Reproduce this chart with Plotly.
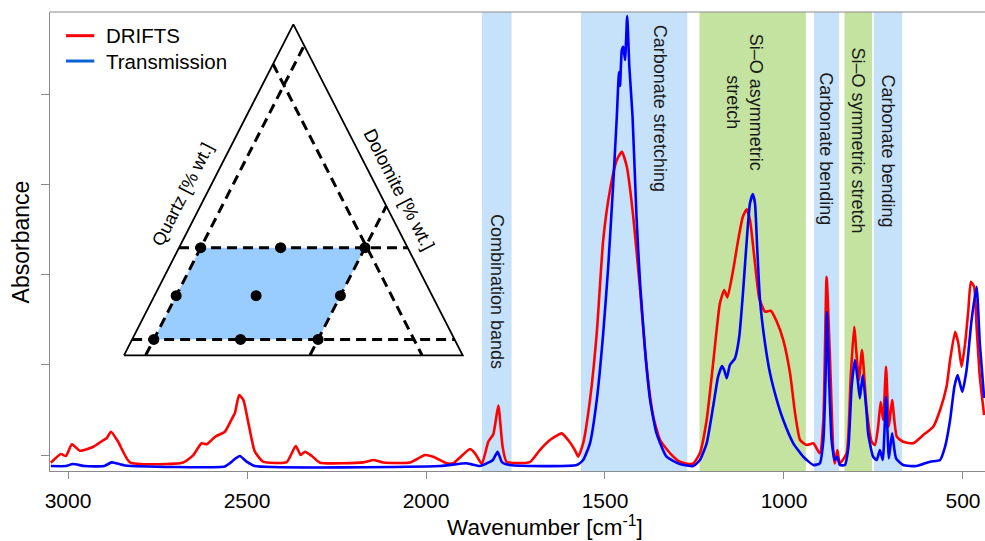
import plotly.graph_objects as go

# ---------------- spectra (wavenumber in cm-1, absorbance in arbitrary units) -------------
wn_drifts = [3048, 3020, 3006, 2989, 2967, 2929, 2901, 2892, 2880, 2860,
             2827, 2678, 2650, 2627, 2613, 2589, 2562, 2543, 2534, 2522,
             2510, 2496, 2478, 2455, 2389, 2364, 2350, 2338, 2319, 2296,
             2175, 2147, 2119, 2045, 2003, 1980, 1942, 1924, 1877, 1863,
             1844, 1826, 1812, 1798, 1786, 1775, 1710, 1682, 1654, 1621,
             1603, 1584, 1575, 1561, 1542, 1523, 1505, 1486, 1467, 1453,
             1439, 1421, 1402, 1384, 1365, 1346, 1318, 1291, 1263, 1253,
             1235, 1216, 1198, 1179, 1167, 1158, 1142, 1128, 1115, 1104,
             1095, 1081, 1069, 1053, 1037, 1020, 1002, 983, 969, 955,
             937, 918, 900, 890, 881, 872, 862, 858, 851, 844,
             825, 814, 804, 791, 782, 769, 755, 746, 737, 730,
             723, 715, 707, 698, 685, 667, 639, 611, 583, 564,
             546, 536, 522, 513, 504, 494, 485, 478, 469, 462,
             453, 441]
abs_drifts = [-0.085, 0.011, -0.011, 0.119, 0.048, 0.092, 0.166, 0.185, 0.258, 0.147,
              -0.081, -0.083, 0.000, 0.130, 0.119, 0.203, 0.258, 0.396, 0.462, 0.665,
              0.609, 0.351, 0.037, -0.074, -0.078, 0.100, 0.000, 0.037, -0.011, -0.085,
              -0.081, -0.055, -0.083, -0.083, 0.000, -0.019, -0.092, -0.092, 0.066, 0.019,
              -0.100, 0.147, 0.230, 0.548, 0.092, -0.074, -0.078, 0.055, 0.166, 0.240,
              0.166, 0.055, -0.019, 0.130, 0.609, 1.352, 2.382, 2.936, 3.269, 3.361,
              3.194, 2.640, 1.828, 0.978, 0.424, 0.166, 0.019, -0.074, -0.100, -0.092,
              0.019, 0.388, 1.016, 1.681, 1.828, 1.747, 2.050, 2.382, 2.640, 2.722,
              2.604, 2.124, 1.736, 1.588, 1.599, 1.477, 1.274, 0.905, 0.462, 0.166,
              0.111, 0.130, 0.019, 0.388, 1.976, 1.127, 0.019, -0.092, 0.055, -0.092,
              0.019, 0.831, 1.422, 0.831, 1.163, 0.499, 0.147, 0.111, 0.314, 0.591,
              0.388, 0.978, 0.314, 0.609, 0.203, 0.147, 0.130, 0.222, 0.314, 0.499,
              0.757, 1.053, 1.366, 1.238, 0.978, 1.238, 1.607, 1.920, 1.865, 1.422,
              0.868, 0.443]

wn_trans = [3048, 3006, 2987, 2953, 2899, 2878, 2841, 2562, 2548, 2534,
            2520, 2501, 2478, 1961, 1886, 1849, 1826, 1813, 1800, 1788,
            1765, 1579, 1561, 1542, 1523, 1505, 1491, 1477, 1467, 1461,
            1458, 1453, 1449, 1444, 1438, 1432, 1423, 1412, 1402, 1388,
            1374, 1356, 1328, 1291, 1253, 1235, 1216, 1198, 1184, 1173,
            1167, 1160, 1151, 1137, 1125, 1114, 1104, 1095, 1087, 1081,
            1075, 1067, 1053, 1039, 1020, 1002, 974, 946, 918, 900,
            890, 884, 880, 874, 867, 858, 851, 844, 830, 820,
            811, 802, 794, 788, 780, 769, 765, 751, 741, 732,
            724, 715, 707, 698, 687, 667, 630, 592, 564, 550,
            536, 524, 515, 502, 490, 476, 462, 453, 441]
abs_trans = [-0.122, -0.122, -0.100, -0.122, -0.122, -0.081, -0.116, -0.127, -0.092, -0.044,
             -0.011, -0.074, -0.122, -0.122, -0.092, -0.122, -0.085, -0.055, 0.037, -0.078,
             -0.111, -0.111, -0.055, 0.130, 0.609, 1.348, 2.086, 3.010, 3.748, 4.244,
             4.089, 4.488, 4.524, 4.377, 4.864, 4.302, 3.748, 2.640, 1.903, 1.163,
             0.609, 0.240, -0.019, -0.100, -0.122, -0.055, 0.130, 0.535, 0.868, 0.986,
             0.942, 0.850, 0.997, 1.071, 1.311, 1.828, 2.382, 2.789, 2.892, 2.789,
             2.308, 1.717, 1.238, 0.905, 0.609, 0.388, 0.130, -0.019, -0.111, -0.092,
             0.166, 0.831, 1.581, 0.831, 0.166, -0.055, -0.019, -0.111, -0.111, 0.092,
             0.757, 1.053, 0.831, 0.628, 0.886, 0.462, 0.240, -0.019, -0.055, 0.055,
             -0.055, 0.646, -0.037, 0.240, -0.037, -0.111, -0.122, -0.074, -0.055, 0.092,
             0.388, 0.757, 0.886, 0.701, 0.942, 1.496, 1.865, 1.238, 0.632]

# ---------------- assignment bands ----------------
band_lo = [1761, 1270, 939, 846, 754, 670]
band_hi = [1844, 1567, 1236, 916, 831, 749]
band_kind = ["carb", "carb", "si", "carb", "si", "carb"]
band_labels = ["Combination bands", "Carbonate stretching", "Si\u2013O asymmetric<br>stretch",
               "Carbonate bending", "Si\u2013O symmetric stretch", "Carbonate bending"]
label_wn = [1800, 1346, 1110, 881, 792, 709]
label_ypos = [0.391, 0.791, 0.803, 0.702, 0.719, 0.698]

x_ticks = [3000, 2500, 2000, 1500, 1000, 500]
y_ticks = [0, 1, 2, 3, 4]

# ---------------- ternary inset (percent) ----------------
quartz_levels = [4.8, 32.5]        # horizontal guide lines
dolomite_levels = [6.4, 54.9]      # guides parallel to the left edge
calcite_levels = [12.0]            # guide parallel to the right edge
sample_quartz = [4.8, 4.8, 4.8, 18.0, 18.0, 18.0, 32.5, 32.5, 32.5]
sample_dolomite = [6.4, 32.0, 54.9, 6.4, 30.0, 54.9, 6.4, 30.0, 54.9]

RED = "#FF0000"
BLUE = "#0000FF"
CARB_FILL = "#C6E1FA"
SI_FILL = "#C4E3A1"
FONT = "Liberation Sans, Arial, sans-serif"
AXIS_GRAY = "#8A8A8A"


def tern(q, d):
    """quartz (top) / dolomite (bottom-right) percentages -> 2D coordinates"""
    q = q / 100.0
    d = d / 100.0
    return d + q / 2.0, q


fig = go.Figure()

# bands
for lo, hi, kind in zip(band_lo, band_hi, band_kind):
    fig.add_shape(type="rect", xref="x", yref="paper", x0=lo, x1=hi, y0=0, y1=1,
                  fillcolor=CARB_FILL if kind == "carb" else SI_FILL,
                  line_width=0, layer="below")

fig.add_trace(go.Scatter(x=wn_drifts, y=abs_drifts, mode="lines", name="DRIFTS",
                         line=dict(color=RED, width=2.6, shape="spline", smoothing=0.5),
                         showlegend=False, xaxis="x", yaxis="y"))
fig.add_trace(go.Scatter(x=wn_trans, y=abs_trans, mode="lines", name="Transmission",
                         line=dict(color=BLUE, width=2.6, shape="spline", smoothing=0.5),
                         showlegend=False, xaxis="x", yaxis="y"))

# ---- inset: ternary diagram ----
poly = [(quartz_levels[0], dolomite_levels[0]), (quartz_levels[0], dolomite_levels[1]),
        (quartz_levels[1], dolomite_levels[1]), (quartz_levels[1], dolomite_levels[0]),
        (quartz_levels[0], dolomite_levels[0])]
px, py = zip(*[tern(q, d) for q, d in poly])
fig.add_trace(go.Scatter(x=px, y=py, mode="lines", fill="toself", fillcolor="#99CCFF",
                         line=dict(width=0), showlegend=False, hoverinfo="skip",
                         xaxis="x2", yaxis="y2"))
tx, ty = zip(*[tern(q, d) for q, d in [(0, 0), (0, 100), (100, 0), (0, 0)]])
fig.add_trace(go.Scatter(x=tx, y=ty, mode="lines", line=dict(color="black", width=1.8),
                         showlegend=False, hoverinfo="skip", xaxis="x2", yaxis="y2"))
dash = dict(color="black", width=3, dash="10px,6px")
for q in quartz_levels:
    gx, gy = zip(tern(q, 0), tern(q, 100 - q))
    fig.add_trace(go.Scatter(x=gx, y=gy, mode="lines", line=dash, showlegend=False,
                             hoverinfo="skip", xaxis="x2", yaxis="y2"))
for d in dolomite_levels:
    gx, gy = zip(tern(0, d), tern(100 - d, d))
    fig.add_trace(go.Scatter(x=gx, y=gy, mode="lines", line=dash, showlegend=False,
                             hoverinfo="skip", xaxis="x2", yaxis="y2"))
for c in calcite_levels:
    gx, gy = zip(tern(100 - c, 0), tern(0, 100 - c))
    fig.add_trace(go.Scatter(x=gx, y=gy, mode="lines", line=dash, showlegend=False,
                             hoverinfo="skip", xaxis="x2", yaxis="y2"))
sx, sy = zip(*[tern(q, d) for q, d in zip(sample_quartz, sample_dolomite)])
fig.add_trace(go.Scatter(x=sx, y=sy, mode="markers", marker=dict(color="black", size=11),
                         showlegend=False, xaxis="x2", yaxis="y2"))

annotations = []
for lab, xw, yp in zip(band_labels, label_wn, label_ypos):
    annotations.append(dict(text=lab, x=xw, y=yp, xref="x", yref="paper", textangle=90,
                            showarrow=False, font=dict(size=18, color="#1a1a1a", family=FONT),
                            xanchor="center", yanchor="middle"))
annotations += [
    dict(text="Quartz [% wt.]", x=0.174, y=0.487, xref="x2", yref="y2", textangle=-62.9,
         showarrow=False, font=dict(size=18, color="black", family=FONT)),
    dict(text="Dolomite [% wt.]", x=0.812, y=0.50, xref="x2", yref="y2", textangle=62.9,
         showarrow=False, font=dict(size=18.5, color="black", family=FONT)),
    dict(text="Calcite [% wt.]", x=0.507, y=-0.08, xref="x2", yref="y2",
         showarrow=False, font=dict(size=16.5, color="black", family=FONT)),
]
annotations += [
    dict(text="Wavenumber [cm<sup>-1</sup>]", x=0.5294, y=-0.1198, xref="paper", yref="paper",
         showarrow=False, xanchor="center", yanchor="middle",
         font=dict(size=22.5, color="black", family=FONT)),
    dict(text="Absorbance", x=-0.031, y=0.498, xref="paper", yref="paper", textangle=-90,
         showarrow=False, xanchor="center", yanchor="middle",
         font=dict(size=23, color="black", family=FONT)),
]
legend_names = ["DRIFTS", "Transmission"]
legend_colors = [RED, "#0A64D2"]
legend_y = [0.9484, 0.8932]
for name, col, ly in zip(legend_names, legend_colors, legend_y):
    fig.add_shape(type="line", xref="paper", yref="paper", x0=0.0171, x1=0.0474, y0=ly, y1=ly,
                  line=dict(color=col, width=3))
    annotations.append(dict(text=name, x=0.0581, y=ly, xref="paper", yref="paper",
                            showarrow=False, xanchor="left", yanchor="middle",
                            font=dict(size=20.5, color="black", family=FONT)))

fig.add_shape(type="line", xref="paper", yref="paper", x0=0, x1=1, y0=1, y1=1,
              line=dict(color=AXIS_GRAY, width=1))

fig.update_layout(
    width=985, height=541,
    margin=dict(l=50, r=0, t=12, b=70),
    paper_bgcolor="white", plot_bgcolor="rgba(0,0,0,0)",
    font=dict(family=FONT, color="black"),
    annotations=annotations,
    xaxis=dict(range=[3050.3, 438.5], tickvals=x_ticks, ticks="outside", ticklen=7,
               tickcolor=AXIS_GRAY, showline=True, linecolor=AXIS_GRAY, linewidth=1,
               showgrid=False, zeroline=False, tickfont=dict(size=21, color="black"),
               ticklabelstandoff=4, domain=[0, 1]),
    yaxis=dict(range=[-0.177, 4.909], tickvals=y_ticks, showticklabels=False,
               ticks="outside", ticklen=8, tickcolor=AXIS_GRAY, showline=True,
               linecolor=AXIS_GRAY, linewidth=1, showgrid=False, zeroline=False,
               domain=[0, 1]),
    xaxis2=dict(range=[-0.05, 1.05], domain=[0.06104, 0.45951], anchor="y2",
                visible=False, fixedrange=True),
    yaxis2=dict(range=[-0.05, 1.03], domain=[0.21601, 0.99484], anchor="x2",
                visible=False, fixedrange=True),
)

fig.write_html("out.html")
